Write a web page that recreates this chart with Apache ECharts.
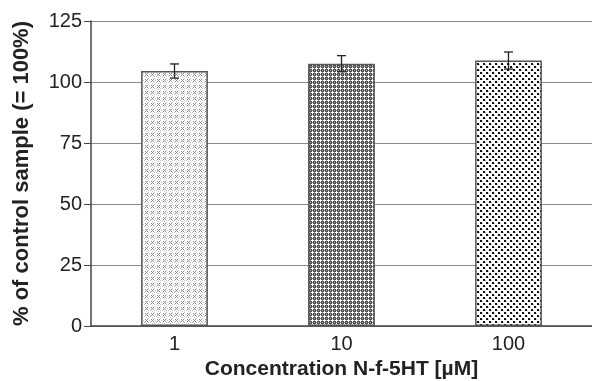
<!DOCTYPE html>
<html>
<head>
<meta charset="utf-8">
<script src="https://cdn.jsdelivr.net/npm/echarts@6/dist/echarts.min.js"></script>
<style>
  html, body { margin: 0; padding: 0; background: #fff; }
  #chart { width: 592px; height: 381px; }
</style>
</head>
<body>
<div id="chart"></div>
<script>
const categories = ['1', '10', '100']
const values = [104.5, 107.5, 108.8]
const errors = [2.9, 3.3, 3.5]
const yTicks = [0, 25, 50, 75, 100, 125]

// small tile patterns to mimic the printed hatch fills
const makeTile = (size, draw) => {
  const c = document.createElement('canvas')
  c.width = c.height = size
  const ctx = c.getContext('2d')
  ctx.fillStyle = '#fff'
  ctx.fillRect(0, 0, size, size)
  draw(ctx)
  return c
}

const crossTile = makeTile(6, ctx => {
  ctx.fillStyle = '#8c8c8c'
  ;[[1, 1], [3, 1], [2, 2], [1, 3], [3, 3]].forEach(p => ctx.fillRect(p[0], p[1], 1, 1))
  ctx.fillStyle = '#c4c4c4'
  ;[[4, 4], [0, 4], [4, 0], [2, 5], [5, 2]].forEach(p => ctx.fillRect(p[0], p[1], 1, 1))
})

const checkTile = makeTile(4, ctx => {
  ctx.fillStyle = '#4e4e4e'
  ctx.fillRect(1, 1, 3, 3)
  ctx.fillStyle = '#b0b0b0'
  ctx.fillRect(2, 2, 1, 1)
  ctx.fillStyle = '#888'
  ctx.fillRect(0, 2, 1, 1)
  ctx.fillRect(2, 0, 1, 1)
})

const dotTile = makeTile(6, ctx => {
  ctx.fillStyle = '#111'
  ctx.fillRect(0, 0, 2, 2)
  ctx.fillRect(3, 3, 2, 2)
  ctx.fillStyle = '#bbb'
  ctx.fillRect(2, 1, 1, 1)
  ctx.fillRect(5, 4, 1, 1)
})

const patterns = [crossTile, checkTile, dotTile]

var myChart = echarts.init(document.getElementById('chart'))

myChart.setOption({
  animation: false,
  grid: {
    left: 91,
    right: 0,
    top: 21,
    bottom: 55,
    outerBoundsMode: 'none'
  },
  xAxis: {
    type: 'category',
    data: categories,
    name: 'Concentration N-f-5HT [µM]',
    nameLocation: 'middle',
    nameGap: 31,
    nameTextStyle: {
      fontFamily: 'Liberation Sans',
      fontWeight: 'bold',
      fontSize: 21,
      color: '#222'
    },
    axisLine: { lineStyle: { color: '#444', width: 1.5 } },
    axisTick: { show: false },
    axisLabel: {
      margin: 8,
      fontFamily: 'Liberation Sans',
      fontSize: 20,
      color: '#222'
    }
  },
  yAxis: {
    type: 'value',
    min: yTicks[0],
    max: yTicks[yTicks.length - 1],
    interval: 25,
    name: '% of control sample (= 100%)',
    nameLocation: 'middle',
    nameGap: 58,
    nameTextStyle: {
      fontFamily: 'Liberation Sans',
      fontWeight: 'bold',
      fontSize: 22,
      color: '#222'
    },
    axisLine: { show: true, lineStyle: { color: '#444', width: 1.5 } },
    axisTick: { show: true, length: 7, lineStyle: { color: '#444' } },
    splitLine: { lineStyle: { color: '#8a8a8a', width: 1.2 } },
    axisLabel: {
      margin: 9,
      fontFamily: 'Liberation Sans',
      fontSize: 20,
      color: '#222'
    }
  },
  series: [
    {
      type: 'bar',
      barWidth: '40%',
      data: values.map((v, i) => ({
        value: v,
        itemStyle: {
          color: { image: patterns[i], repeat: 'repeat' },
          borderColor: '#555',
          borderWidth: 1.5
        }
      })),
      z: 3
    },
    {
      type: 'custom',
      z: 5,
      data: values.map((v, i) => [i, v - errors[i], v + errors[i]]),
      renderItem: (params, api) => {
        const lo = api.coord([api.value(0), api.value(1)])
        const hi = api.coord([api.value(0), api.value(2)])
        const hw = 4.5
        const style = { stroke: '#222', lineWidth: 1.3 }
        return {
          type: 'group',
          children: [
            { type: 'line', shape: { x1: hi[0], y1: hi[1], x2: lo[0], y2: lo[1] }, style },
            { type: 'line', shape: { x1: hi[0] - hw, y1: hi[1], x2: hi[0] + hw, y2: hi[1] }, style },
            { type: 'line', shape: { x1: lo[0] - hw, y1: lo[1], x2: lo[0] + hw, y2: lo[1] }, style }
          ]
        }
      }
    }
  ]
})
</script>
</body>
</html>
